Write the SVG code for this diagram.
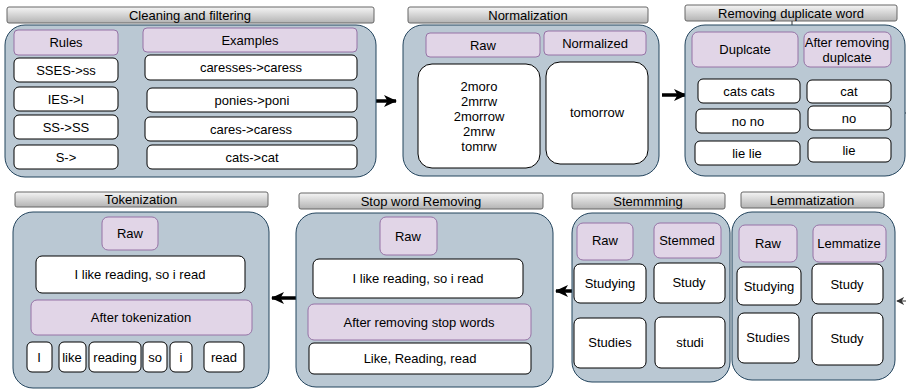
<svg xmlns="http://www.w3.org/2000/svg" width="906" height="391" viewBox="0 0 906 391">
  <defs>
    <linearGradient id="barGrad" x1="0" y1="0" x2="0" y2="1">
      <stop offset="0" stop-color="#f5f5f5"/>
      <stop offset="1" stop-color="#b3b3b3"/>
    </linearGradient>
    <marker id="arrowHead" viewBox="0 0 13 12" refX="12" refY="6" markerWidth="13" markerHeight="12" orient="auto" markerUnits="userSpaceOnUse">
      <path d="M0,0 L13,6 L0,12 L3.5,6 Z" fill="#000"/>
    </marker>
    <marker id="arrowSmall" viewBox="0 0 10 10" refX="9" refY="5" markerWidth="8" markerHeight="8" orient="auto" markerUnits="userSpaceOnUse">
      <path d="M0,0 L10,5 L0,10 L3,5 Z" fill="#333"/>
    </marker>
  </defs>
  <style>
    text { font-family: "Liberation Sans", Arial, sans-serif; font-size: 13px; fill: #000; text-anchor: middle; }
    .bar { fill: url(#barGrad); stroke: #666666; stroke-width: 1; }
    .panel { fill: #bac8d3; stroke: #23445d; stroke-width: 1; }
    .head { fill: #e1d5e7; stroke: #9673a6; stroke-width: 1; }
    .cell { fill: #ffffff; stroke: #000000; stroke-width: 1; }
    .flow { stroke: #000; stroke-width: 3.5; fill: none; }
    .thin { stroke: #333; stroke-width: 1; fill: none; }
  </style>

  <!-- Connectors between stages -->
  <g id="connectors">
    <line class="flow" x1="373" y1="101" x2="396" y2="101" marker-end="url(#arrowHead)"/>
    <line class="flow" x1="662" y1="95" x2="686" y2="95" marker-end="url(#arrowHead)"/>
    <line class="thin" x1="905" y1="113" x2="906" y2="113"/>
    <line class="thin" x1="906" y1="301" x2="897" y2="301" marker-end="url(#arrowSmall)"/>
    <line class="flow" x1="573" y1="291" x2="556" y2="291" marker-end="url(#arrowHead)"/>
    <line class="flow" x1="296" y1="298" x2="272" y2="298" marker-end="url(#arrowHead)"/>
  </g>

  <!-- Stage 1: cleaning and filtering -->
  <g id="cleaning">
    <rect class="bar" x="7" y="7" width="367" height="16" rx="2"/>
    <text x="190" y="20">Cleaning and filtering</text>
    <rect class="panel" x="5" y="25" width="371" height="152" rx="20"/>
    <rect class="head" x="14" y="30" width="104" height="25" rx="4"/>
    <text x="66" y="47">Rules</text>
    <rect class="head" x="143" y="28" width="214" height="24" rx="4"/>
    <text x="250" y="45">Examples</text>
    <rect class="cell" x="14" y="58" width="104" height="24" rx="5"/>
    <text x="66" y="75">SSES-&gt;ss</text>
    <rect class="cell" x="14" y="87" width="104" height="24" rx="5"/>
    <text x="66" y="104">IES-&gt;I</text>
    <rect class="cell" x="14" y="115" width="104" height="24" rx="5"/>
    <text x="66" y="132">SS-&gt;SS</text>
    <rect class="cell" x="14" y="145" width="104" height="24" rx="5"/>
    <text x="66" y="162">S-&gt;</text>
    <rect class="cell" x="145" y="55" width="212" height="25" rx="5"/>
    <text x="251" y="72">caresses-&gt;caress</text>
    <rect class="cell" x="147" y="88" width="210" height="24" rx="5"/>
    <text x="252" y="105">ponies-&gt;poni</text>
    <rect class="cell" x="145" y="117" width="212" height="24" rx="5"/>
    <text x="251" y="134">cares-&gt;caress</text>
    <rect class="cell" x="147" y="145" width="210" height="24" rx="5"/>
    <text x="252" y="162">cats-&gt;cat</text>
  </g>

  <!-- Stage 2: normalization -->
  <g id="normalization">
    <rect class="bar" x="408" y="7" width="240" height="16" rx="2"/>
    <text x="528" y="20">Normalization</text>
    <rect class="panel" x="403" y="25" width="256" height="151" rx="20"/>
    <rect class="head" x="426" y="33" width="114" height="24" rx="4"/>
    <text x="483" y="50">Raw</text>
    <rect class="head" x="544" y="31" width="102" height="24" rx="4"/>
    <text x="595" y="48">Normalized</text>
    <rect class="cell" x="418" y="64" width="122" height="104" rx="14"/>
    <text x="479" y="91">2moro</text>
    <text x="479" y="106">2mrrw</text>
    <text x="479" y="121">2morrow</text>
    <text x="479" y="136">2mrw</text>
    <text x="479" y="151">tomrw</text>
    <rect class="cell" x="546" y="62" width="102" height="102" rx="14"/>
    <text x="597" y="117">tomorrow</text>
  </g>

  <!-- Stage 3: duplicate word removal -->
  <g id="dedupe">
    <rect class="bar" x="685" y="5" width="212" height="16" rx="2"/>
    <text x="791" y="18">Removing duplicate word</text>
    <line x1="792" y1="21" x2="792" y2="25" stroke="#333" stroke-width="1"/>
    <rect class="panel" x="685" y="25" width="220" height="151" rx="20"/>
    <rect class="head" x="692" y="32" width="106" height="35" rx="6"/>
    <text x="745" y="54">Duplcate</text>
    <rect class="head" x="804" y="32" width="87" height="35" rx="6"/>
    <text x="847" y="47">After removing</text>
    <text x="847" y="62">duplcate</text>
    <rect class="cell" x="698" y="79" width="102" height="24" rx="5"/>
    <text x="749" y="96">cats cats</text>
    <rect class="cell" x="807" y="80" width="84" height="23" rx="5"/>
    <text x="849" y="96">cat</text>
    <rect class="cell" x="696" y="109" width="104" height="24" rx="5"/>
    <text x="748" y="126">no no</text>
    <rect class="cell" x="808" y="106" width="83" height="24" rx="5"/>
    <text x="849" y="123">no</text>
    <rect class="cell" x="695" y="141" width="105" height="24" rx="5"/>
    <text x="747" y="158">lie lie</text>
    <rect class="cell" x="808" y="138" width="83" height="24" rx="5"/>
    <text x="849" y="155">lie</text>
  </g>

  <!-- Stage 4: lemmatization -->
  <g id="lemmatization">
    <rect class="bar" x="741" y="192" width="143" height="16" rx="2"/>
    <text x="812" y="205">Lemmatization</text>
    <rect class="panel" x="732" y="212" width="163" height="168" rx="20"/>
    <rect class="head" x="739" y="225" width="58" height="37" rx="6"/>
    <text x="768" y="248">Raw</text>
    <rect class="head" x="813" y="225" width="73" height="37" rx="6"/>
    <text x="849" y="248">Lemmatize</text>
    <rect class="cell" x="737" y="267" width="64" height="38" rx="6"/>
    <text x="769" y="291">Studying</text>
    <rect class="cell" x="812" y="264" width="71" height="40" rx="6"/>
    <text x="847" y="289">Study</text>
    <rect class="cell" x="738" y="313" width="61" height="50" rx="6"/>
    <text x="768" y="342">Studies</text>
    <rect class="cell" x="812" y="313" width="71" height="52" rx="6"/>
    <text x="847" y="343">Study</text>
  </g>

  <!-- Stage 5: stemming -->
  <g id="stemming">
    <rect class="bar" x="572" y="193" width="153" height="16" rx="2"/>
    <text x="648" y="206">Stemmming</text>
    <rect class="panel" x="572" y="213" width="158" height="169" rx="20"/>
    <rect class="head" x="577" y="223" width="56" height="37" rx="6"/>
    <text x="605" y="245">Raw</text>
    <rect class="head" x="654" y="223" width="67" height="35" rx="6"/>
    <text x="687" y="245">Stemmed</text>
    <rect class="cell" x="574" y="264" width="72" height="39" rx="6"/>
    <text x="610" y="288">Studying</text>
    <rect class="cell" x="654" y="263" width="71" height="40" rx="6"/>
    <text x="689" y="287">Study</text>
    <rect class="cell" x="574" y="318" width="72" height="50" rx="6"/>
    <text x="610" y="347">Studies</text>
    <rect class="cell" x="655" y="317" width="70" height="51" rx="6"/>
    <text x="690" y="347">studi</text>
  </g>

  <!-- Stage 6: stop word removal -->
  <g id="stopwords">
    <rect class="bar" x="299" y="193" width="244" height="16" rx="2"/>
    <text x="421" y="206">Stop word Removing</text>
    <rect class="panel" x="296" y="213" width="257" height="174" rx="20"/>
    <rect class="head" x="380" y="217" width="57" height="38" rx="6"/>
    <text x="408" y="241">Raw</text>
    <rect class="cell" x="313" y="259" width="210" height="39" rx="6"/>
    <text x="418" y="283">I like reading, so i read</text>
    <rect class="head" x="308" y="304" width="223" height="36" rx="6"/>
    <text x="419" y="327">After removing stop words</text>
    <rect class="cell" x="309" y="343" width="222" height="31" rx="5"/>
    <text x="420" y="363">Like, Reading, read</text>
  </g>

  <!-- Stage 7: tokenization -->
  <g id="tokenization">
    <rect class="bar" x="15" y="192" width="253" height="15" rx="2"/>
    <text x="141" y="204">Tokenization</text>
    <rect class="panel" x="13" y="212" width="256" height="176" rx="20"/>
    <rect class="head" x="102" y="217" width="56" height="33" rx="6"/>
    <text x="130" y="238">Raw</text>
    <rect class="cell" x="36" y="256" width="209" height="37" rx="6"/>
    <text x="140" y="279">I like reading, so i read</text>
    <rect class="head" x="31" y="300" width="221" height="35" rx="6"/>
    <text x="141" y="322">After tokenization</text>
    <rect class="cell" x="27" y="342" width="25" height="30" rx="5"/>
    <text x="39" y="362">I</text>
    <rect class="cell" x="59" y="342" width="27" height="30" rx="5"/>
    <text x="72" y="362">like</text>
    <rect class="cell" x="89" y="342" width="52" height="30" rx="5"/>
    <text x="115" y="362">reading</text>
    <rect class="cell" x="143" y="342" width="24" height="30" rx="5"/>
    <text x="155" y="362">so</text>
    <rect class="cell" x="170" y="342" width="22" height="30" rx="5"/>
    <text x="181" y="362">i</text>
    <rect class="cell" x="204" y="342" width="40" height="30" rx="5"/>
    <text x="224" y="362">read</text>
  </g>
</svg>
